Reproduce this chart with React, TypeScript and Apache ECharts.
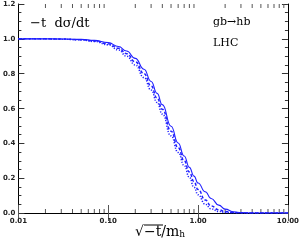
import React, { useEffect, useRef } from "react";
import * as echarts from "echarts";

const xValues = [0.01, 0.02, 0.03, 0.05, 0.07, 0.1, 0.13, 0.16, 0.2, 0.25, 0.3, 0.35, 0.4, 0.5, 0.6, 0.7, 0.8, 0.9, 1.0, 1.2, 1.4, 1.7, 2.0, 2.5, 3.0, 4.0, 6.0, 10.0];
const solidValues = [1.0, 1.0, 0.999, 0.997, 0.991, 0.978, 0.956, 0.93, 0.888, 0.825, 0.755, 0.687, 0.622, 0.498, 0.402, 0.327, 0.262, 0.212, 0.172, 0.122, 0.083, 0.045, 0.022, 0.007, 0.002, 0, 0, 0];
const dashedValues = [1.0, 1.0, 0.999, 0.995, 0.988, 0.972, 0.946, 0.915, 0.868, 0.8, 0.73, 0.66, 0.595, 0.47, 0.375, 0.3, 0.235, 0.18, 0.135, 0.075, 0.04, 0.018, 0.008, 0.003, 0.001, 0, 0, 0];
const dottedValues = [1.0, 1.0, 0.998, 0.994, 0.985, 0.966, 0.936, 0.9, 0.85, 0.778, 0.706, 0.635, 0.568, 0.443, 0.348, 0.273, 0.205, 0.148, 0.105, 0.05, 0.024, 0.009, 0.003, 0.001, 0, 0, 0, 0];
const minorXTicks = [0.02, 0.03, 0.04, 0.05, 0.06, 0.07, 0.08, 0.09, 0.2, 0.3, 0.4, 0.5, 0.6, 0.7, 0.8, 0.9, 2, 3, 4, 5, 6, 7, 8, 9];

const BLUE = "#2020ff";

export default function App() {
  const ref = useRef<HTMLDivElement>(null);
  useEffect(() => {
    if (!ref.current) return;
    const chart = echarts.init(ref.current, null, { renderer: "svg" });
    const pair = (ys: number[]) => xValues.map((x, i) => [x, ys[i]]);
    const labelStyle = { fontSize: 7, fontWeight: "bold" as const, color: "#222", fontFamily: "DejaVu Sans" };
    const xAxisBase = {
      type: "log" as const,
      logBase: 10,
      min: 0.01,
      max: 10,
      axisLine: { show: true, lineStyle: { color: "#000", width: 1 } },
      axisTick: { show: true, inside: true, length: 8, lineStyle: { color: "#555", width: 1 } },
      splitLine: { show: false },
      minorTick: { show: false },
    };
    const yAxisBase = {
      type: "value" as const,
      min: 0,
      max: 1.2,
      interval: 0.2,
      axisLine: { show: true, lineStyle: { color: "#000", width: 1 } },
      axisTick: { show: true, inside: true, length: 6, lineStyle: { color: "#333", width: 1 } },
      minorTick: { show: true, splitNumber: 4, length: 3, lineStyle: { color: "#333", width: 1 } },
      splitLine: { show: false },
    };
    chart.setOption({
      animation: false,
      grid: { left: 15, right: 12, top: 4, bottom: 29, containLabel: false },
      xAxis: [
        {
          ...xAxisBase,
          position: "bottom",
          axisLabel: { ...labelStyle, margin: 4, formatter: (v: number) => v.toFixed(2) },
        },
        { ...xAxisBase, position: "top", axisLabel: { show: false } },
      ],
      yAxis: [
        {
          ...yAxisBase,
          position: "left",
          axisLabel: { ...labelStyle, margin: 3, formatter: (v: number) => v.toFixed(1) },
        },
        { ...yAxisBase, position: "right", axisLabel: { show: false } },
      ],
      series: [
        {
          type: "line",
          data: pair(solidValues),
          showSymbol: false,
          smooth: true,
          smoothMonotone: "x",
          lineStyle: { color: BLUE, width: 1.1, type: "solid" },
        },
        {
          type: "line",
          data: pair(dashedValues),
          showSymbol: false,
          smooth: true,
          smoothMonotone: "x",
          lineStyle: { color: BLUE, width: 1.5, type: [3, 2] },
        },
        {
          type: "line",
          data: pair(dottedValues),
          showSymbol: false,
          smooth: true,
          smoothMonotone: "x",
          lineStyle: { color: BLUE, width: 1.5, type: [1.2, 1.5] },
        },
        {
          type: "custom",
          silent: true,
          clip: false,
          data: minorXTicks.map((x) => [x]),
          renderItem: (params: any, api: any) => {
            const x = api.value(0);
            const b = api.coord([x, 0]);
            const t = api.coord([x, 1.2]);
            const st = { stroke: "#555", lineWidth: 1 };
            return {
              type: "group",
              children: [
                { type: "line", shape: { x1: b[0], y1: b[1], x2: b[0], y2: b[1] - 4 }, style: st },
                { type: "line", shape: { x1: t[0], y1: t[1], x2: t[0], y2: t[1] + 4 }, style: st },
              ],
            };
          },
        },
      ],
      graphic: [
        {
          type: "text",
          left: 30,
          top: 16,
          style: { text: "\u2212t  d\u03c3/dt", fontSize: 13, fontFamily: "DejaVu Serif", fill: "#000" },
        },
        {
          type: "text",
          left: 213,
          top: 16,
          style: { text: "gb\u2192hb", fontSize: 11, fontFamily: "DejaVu Serif", fill: "#000" },
        },
        {
          type: "text",
          left: 213,
          top: 37,
          style: { text: "LHC", fontSize: 11, fontFamily: "DejaVu Serif", fill: "#000" },
        },
        {
          type: "text",
          left: 135,
          top: 224,
          style: {
            text: "{a|\u221a\u2212t/m}{b|h}",
            fontFamily: "DejaVu Serif",
            fill: "#000",
            rich: {
              a: { fontSize: 14, fontFamily: "DejaVu Serif", fill: "#000" },
              b: { fontSize: 9, fontFamily: "DejaVu Serif", fill: "#000", padding: [6, 0, 0, 0] },
            },
          },
        },
        {
          type: "line",
          shape: { x1: 144, y1: 225, x2: 163, y2: 225 },
          style: { stroke: "#000", lineWidth: 1 },
        },
      ],
    });
    return () => chart.dispose();
  }, []);
  return <div ref={ref} style={{ position: "fixed", left: 0, top: 0, width: 302, height: 242 }} />;
}
